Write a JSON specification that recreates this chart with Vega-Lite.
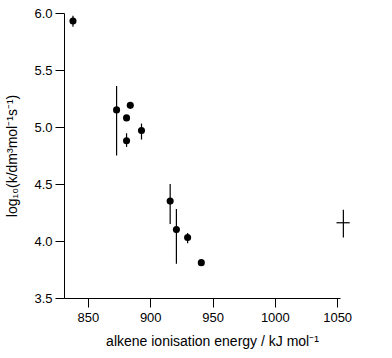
{
  "$schema": "https://vega.github.io/schema/vega-lite/v6.json",
  "width": 276,
  "height": 285,
  "autosize": "none",
  "padding": {"left": 64, "top": 13, "right": 52, "bottom": 60},
  "config": {
    "view": {"stroke": null},
    "font": "Liberation Sans",
    "axis": {
      "domainColor": "black", "tickColor": "black", "labelColor": "black", "titleColor": "black",
      "grid": false, "tickSize": 9, "labelFontSize": 13, "titleFontSize": 14, "titleFontWeight": "normal",
      "labelFont": "Liberation Sans", "titleFont": "Liberation Sans", "domainWidth": 1, "tickWidth": 1
    }
  },
  "datasets": {
    "pts": [
      {"ie": 838, "logk": 5.93, "lo": 5.88, "hi": 5.975},
      {"ie": 873, "logk": 5.15, "lo": 4.75, "hi": 5.36},
      {"ie": 884, "logk": 5.19, "lo": 5.18, "hi": 5.20},
      {"ie": 881, "logk": 5.08, "lo": 5.07, "hi": 5.09},
      {"ie": 881, "logk": 4.88, "lo": 4.825, "hi": 4.945},
      {"ie": 893, "logk": 4.97, "lo": 4.89, "hi": 5.03},
      {"ie": 916, "logk": 4.35, "lo": 4.15, "hi": 4.50},
      {"ie": 921, "logk": 4.10, "lo": 3.80, "hi": 4.28},
      {"ie": 930, "logk": 4.03, "lo": 3.98, "hi": 4.07},
      {"ie": 941, "logk": 3.81, "lo": 3.80, "hi": 3.82}
    ],
    "cross": [
      {"ie": 1055, "logk": 4.16, "lo": 4.03, "hi": 4.275, "ielo": 1049.5, "iehi": 1060.1}
    ]
  },
  "layer": [
    {
      "data": {"name": "pts"},
      "mark": {"type": "rule", "color": "black", "strokeWidth": 1.2},
      "encoding": {
        "x": {"field": "ie", "type": "quantitative",
              "scale": {"domain": [830.8, 1052.3], "nice": false, "zero": false},
              "axis": {"values": [850, 900, 950, 1000, 1050], "format": "d", "title": "alkene ionisation energy / kJ mol⁻¹", "titlePadding": 10, "titleX": 148, "labelPadding": 4}},
        "y": {"field": "lo", "type": "quantitative",
              "scale": {"domain": [3.5, 6.0], "nice": false, "zero": false},
              "axis": {"values": [3.5, 4.0, 4.5, 5.0, 5.5, 6.0], "format": ".1f", "title": "log₁₀(k/dm³mol⁻¹s⁻¹)", "titlePadding": 14, "labelPadding": 3}},
        "y2": {"field": "hi"}
      }
    },
    {
      "data": {"name": "pts"},
      "mark": {"type": "circle", "color": "black", "opacity": 1, "size": 50},
      "encoding": {
        "x": {"field": "ie", "type": "quantitative"},
        "y": {"field": "logk", "type": "quantitative"}
      }
    },
    {
      "data": {"name": "cross"},
      "mark": {"type": "rule", "color": "black", "strokeWidth": 1.2, "clip": false},
      "encoding": {
        "x": {"field": "ie", "type": "quantitative"},
        "y": {"field": "lo", "type": "quantitative"},
        "y2": {"field": "hi"}
      }
    },
    {
      "data": {"name": "cross"},
      "mark": {"type": "rule", "color": "black", "strokeWidth": 1.2, "clip": false},
      "encoding": {
        "x": {"field": "ielo", "type": "quantitative"},
        "x2": {"field": "iehi"},
        "y": {"field": "logk", "type": "quantitative"}
      }
    }
  ]
}
